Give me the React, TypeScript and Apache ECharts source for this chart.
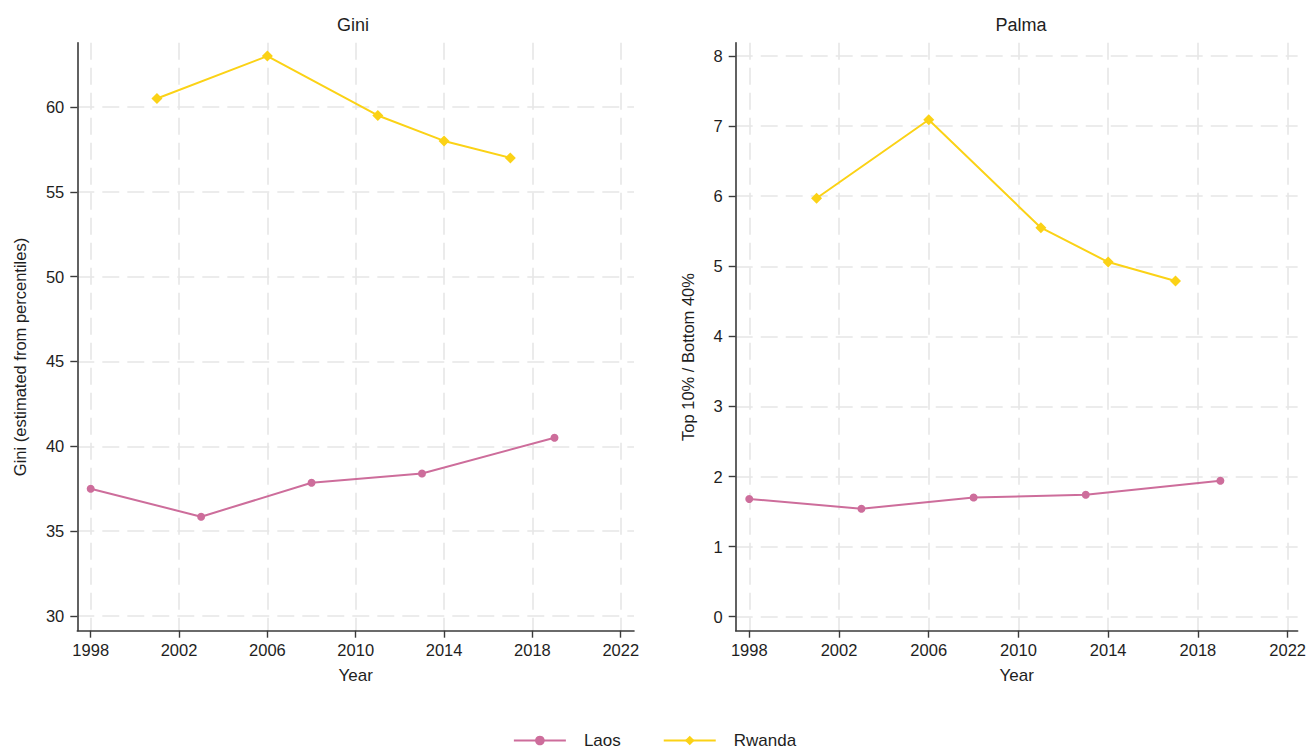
import React, { useEffect, useRef } from "react";
import * as echarts from "echarts";

const laosYears = [1998, 2003, 2008, 2013, 2019];
const rwandaYears = [2001, 2006, 2011, 2014, 2017];
const laosGini = [37.5, 35.85, 37.85, 38.4, 40.5];
const rwandaGini = [60.5, 63.0, 59.5, 58.0, 57.0];
const laosPalma = [1.68, 1.54, 1.7, 1.74, 1.94];
const rwandaPalma = [5.97, 7.09, 5.55, 5.06, 4.79];
const yearTicks = [1998, 2002, 2006, 2010, 2014, 2018, 2022];
const giniTicks = [30, 35, 40, 45, 50, 55, 60];
const palmaTicks = [0, 1, 2, 3, 4, 5, 6, 7, 8];

const FONT = "'Liberation Sans', Arial, Helvetica, sans-serif";
const LAOS = "#cd6d9b";
const RWANDA = "#fbd216";
const TEXT = "#1e1e1e";
const AXIS = "#3a3a3a";
const GRIDC = "#e6e6e6";

const pairs = (xs: number[], ys: number[]) => xs.map((x, i) => [x, ys[i]]);

function xAxisCfg(gridIndex: number, min: number, max: number) {
  return {
    type: "value",
    gridIndex,
    min,
    max,
    name: "Year",
    nameLocation: "middle",
    nameGap: 36,
    nameTextStyle: { fontFamily: FONT, fontSize: 17, color: TEXT },
    axisLine: { show: true, onZero: false, lineStyle: { color: AXIS, width: 1.6 } },
    axisTick: { show: true, length: 7, customValues: yearTicks, lineStyle: { color: AXIS, width: 1.4 } },
    axisLabel: {
      customValues: yearTicks,
      margin: 11,
      fontFamily: FONT,
      fontSize: 16.5,
      color: TEXT,
      formatter: (v: number) => String(Math.round(v)),
    },
    splitLine: { show: true, lineStyle: { color: GRIDC, width: 1.6, type: [17, 8] } },
  };
}

function yAxisCfg(gridIndex: number, min: number, max: number, ticks: number[]) {
  return {
    type: "value",
    gridIndex,
    min,
    max,
    axisLine: { show: true, onZero: false, lineStyle: { color: AXIS, width: 1.6 } },
    axisTick: { show: true, length: 7, customValues: ticks, lineStyle: { color: AXIS, width: 1.4 } },
    axisLabel: {
      customValues: ticks,
      margin: 13,
      fontFamily: FONT,
      fontSize: 16.5,
      color: TEXT,
      formatter: (v: number) => String(Math.round(v)),
    },
    splitLine: { show: true, lineStyle: { color: GRIDC, width: 1.6, type: [17, 8] } },
  };
}

function lineSeries(name: string, idx: number, data: number[][], color: string, symbol: string, size: number) {
  return {
    type: "line",
    name,
    xAxisIndex: idx,
    yAxisIndex: idx,
    data,
    symbol,
    symbolSize: size,
    showSymbol: true,
    lineStyle: { color, width: 2 },
    itemStyle: { color },
    emphasis: { disabled: true },
  };
}

export default function App() {
  const ref = useRef<HTMLDivElement>(null);
  useEffect(() => {
    if (!ref.current) return;
    const chart = echarts.init(ref.current, undefined, { renderer: "svg" });
    chart.setOption({
      animation: false,
      backgroundColor: "#ffffff",
      title: [
        { text: "Gini", left: 353, top: 16, padding: 0, textAlign: "center", textStyle: { fontFamily: FONT, fontSize: 18, fontWeight: "normal", color: TEXT } },
        { text: "Palma", left: 1021, top: 16, padding: 0, textAlign: "center", textStyle: { fontFamily: FONT, fontSize: 18, fontWeight: "normal", color: TEXT } },
      ],
      grid: [
        { left: 77.3, top: 42.7, width: 556.7, height: 588 },
        { left: 735.7, top: 42.7, width: 563, height: 588 },
      ],
      xAxis: [xAxisCfg(0, 1997.393, 2022.6), xAxisCfg(1, 1997.395, 2022.445)],
      yAxis: [yAxisCfg(0, 29.13, 63.79, giniTicks), yAxisCfg(1, -0.2, 8.19, palmaTicks)],
      legend: {
        data: ["Laos", "Rwanda"],
        left: "center",
        top: 732,
        itemWidth: 52,
        itemHeight: 12,
        itemGap: 42,
        padding: 0,
        textStyle: { fontFamily: FONT, fontSize: 17, color: TEXT, padding: [0, 0, 0, 13] },
      },
      graphic: [
        { type: "text", x: 20, y: 357, rotation: Math.PI / 2, style: { text: "Gini (estimated from percentiles)", fontFamily: FONT, fontSize: 16.5, fill: TEXT, align: "center", verticalAlign: "middle" } },
        { type: "text", x: 688, y: 357, rotation: Math.PI / 2, style: { text: "Top 10% / Bottom 40%", fontFamily: FONT, fontSize: 16.5, fill: TEXT, align: "center", verticalAlign: "middle" } },
      ],
      series: [
        lineSeries("Laos", 0, pairs(laosYears, laosGini), LAOS, "circle", 8),
        lineSeries("Rwanda", 0, pairs(rwandaYears, rwandaGini), RWANDA, "diamond", 11),
        lineSeries("Laos", 1, pairs(laosYears, laosPalma), LAOS, "circle", 8),
        lineSeries("Rwanda", 1, pairs(rwandaYears, rwandaPalma), RWANDA, "diamond", 11),
      ],
    });
    return () => chart.dispose();
  }, []);
  return <div ref={ref} style={{ position: "fixed", left: 0, top: 0, width: 1309, height: 754, background: "#fff" }} />;
}
